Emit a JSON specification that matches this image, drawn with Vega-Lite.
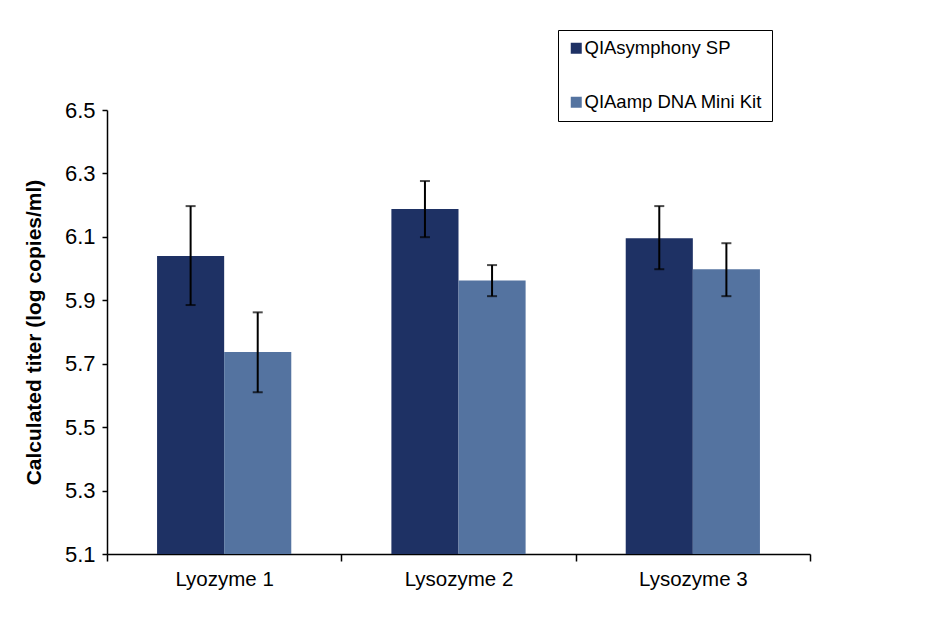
{
  "$schema": "https://vega.github.io/schema/vega-lite/v6.json",
  "autosize": "none",
  "width": 703,
  "height": 444,
  "padding": {"left": 107, "top": 110, "right": 135, "bottom": 71},
  "background": "white",
  "config": {
    "view": {"stroke": null},
    "font": "Liberation Sans",
    "axis": {"domainColor": "black", "tickColor": "black", "labelColor": "black", "titleColor": "black", "grid": false}
  },
  "data": {
    "values": [
      {"sample": "Lyozyme 1", "method": "QIAsymphony SP", "mean": 6.04, "lo": 5.885, "hi": 6.197},
      {"sample": "Lyozyme 1", "method": "QIAamp DNA Mini Kit", "mean": 5.737, "lo": 5.61, "hi": 5.862},
      {"sample": "Lysozyme 2", "method": "QIAsymphony SP", "mean": 6.188, "lo": 6.099, "hi": 6.276},
      {"sample": "Lysozyme 2", "method": "QIAamp DNA Mini Kit", "mean": 5.962, "lo": 5.913, "hi": 6.011},
      {"sample": "Lysozyme 3", "method": "QIAsymphony SP", "mean": 6.096, "lo": 5.998, "hi": 6.197},
      {"sample": "Lysozyme 3", "method": "QIAamp DNA Mini Kit", "mean": 5.998, "lo": 5.913, "hi": 6.08}
    ]
  },
  "encoding": {
    "x": {
      "field": "sample", "type": "nominal", "sort": null,
      "scale": {"paddingInner": 0, "paddingOuter": 0},
      "axis": {"title": null, "labelAngle": 0, "labelFontSize": 20.5, "labelPadding": 8, "tickBand": "extent", "tickSize": 7, "domainWidth": 1.5, "tickWidth": 1.5}
    },
    "xOffset": {
      "field": "method", "type": "nominal", "sort": ["QIAsymphony SP", "QIAamp DNA Mini Kit"],
      "scale": {"paddingInner": 0, "paddingOuter": 0.746}
    }
  },
  "layer": [
    {
      "mark": {"type": "bar", "clip": true},
      "encoding": {
        "y": {
          "field": "mean", "type": "quantitative",
          "scale": {"domain": [5.1, 6.5], "zero": false, "nice": false},
          "axis": {"title": "Calculated titer (log copies/ml)", "titleFontSize": 21, "titleFontWeight": "bold", "titlePadding": 20, "values": [5.1, 5.3, 5.5, 5.7, 5.9, 6.1, 6.3, 6.5], "format": ".1f", "labelFontSize": 22, "labelPadding": 7, "tickSize": 5, "domainWidth": 1.5, "tickWidth": 1.5}
        },
        "color": {
          "field": "method", "type": "nominal", "sort": ["QIAsymphony SP", "QIAamp DNA Mini Kit"],
          "scale": {"domain": ["QIAsymphony SP", "QIAamp DNA Mini Kit"], "range": ["#1E3164", "#5473A0"]},
          "legend": {
            "title": null, "orient": "none", "legendX": 451, "legendY": -80,
            "symbolType": "square", "symbolSize": 121, "symbolStrokeWidth": 0,
            "labelFontSize": 18.5, "labelOffset": -1, "rowPadding": 35,
            "padding": 9, "strokeColor": "black", "fillColor": "white",
            "labelLimit": 300
          }
        }
      }
    },
    {
      "mark": {"type": "rule", "color": "black", "strokeWidth": 2},
      "encoding": {
        "y": {"field": "hi", "type": "quantitative"},
        "y2": {"field": "lo"}
      }
    },
    {
      "mark": {"type": "tick", "color": "black", "thickness": 2, "size": 10},
      "encoding": {"y": {"field": "hi", "type": "quantitative"}}
    },
    {
      "mark": {"type": "tick", "color": "black", "thickness": 2, "size": 10},
      "encoding": {"y": {"field": "lo", "type": "quantitative"}}
    }
  ]
}
